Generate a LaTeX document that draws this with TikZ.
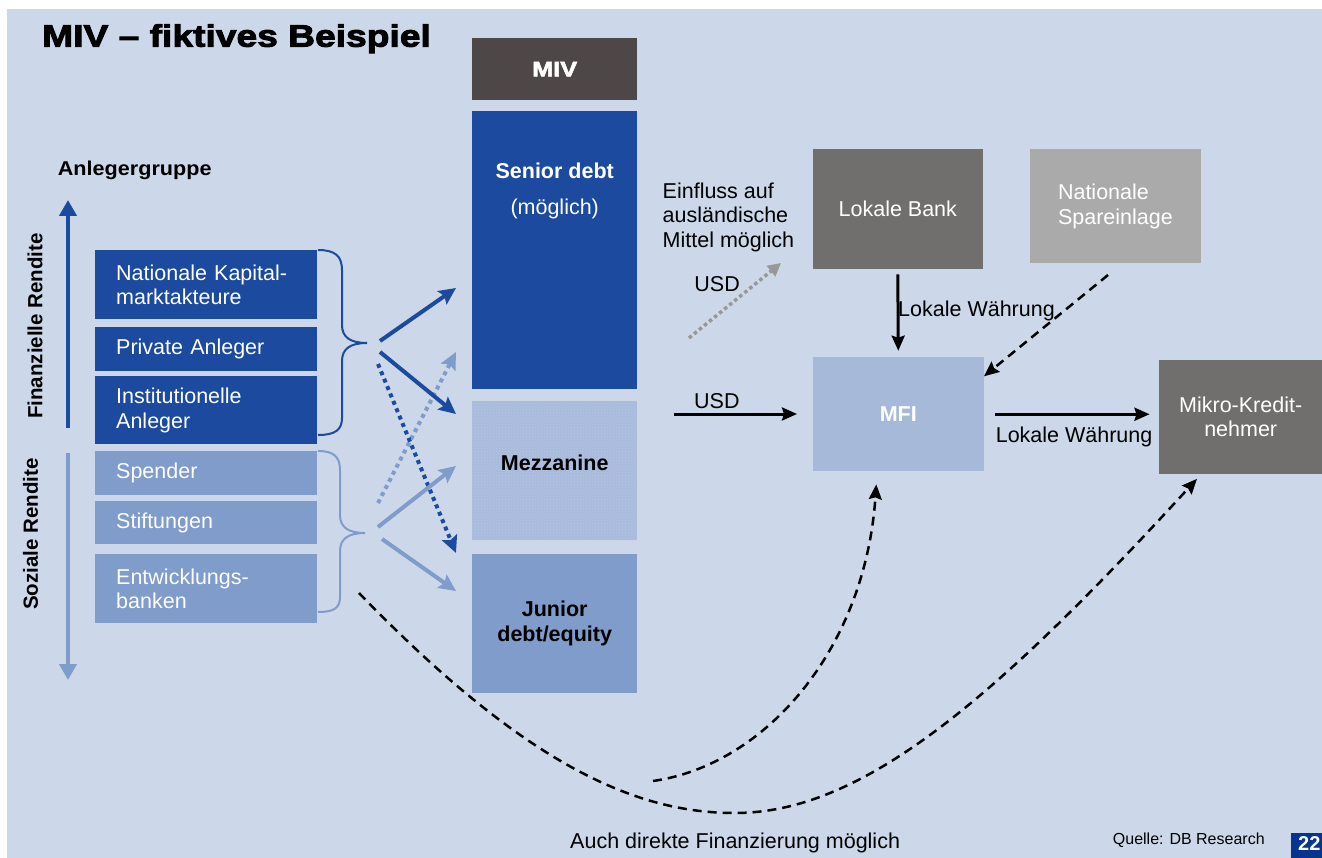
\documentclass[tikz,border=0pt]{standalone}
\usepackage{fontspec}
\setmainfont{Liberation Sans}
\newfontfamily\blackfont[FakeStretch=1.2,FakeBold=3]{Liberation Sans Bold}
\newfontfamily\widebold[FakeStretch=1.08]{Liberation Sans Bold}
\usetikzlibrary{arrows.meta,patterns,calc}

\definecolor{bgblue}{RGB}{204,215,233}
\definecolor{dkblue}{RGB}{27,74,158}
\definecolor{ltblue}{RGB}{127,156,202}
\definecolor{mezzblue}{RGB}{169,187,220}
\definecolor{mezzdot}{RGB}{184,199,227}
\definecolor{mfiblue}{RGB}{166,185,217}
\definecolor{mivgray}{RGB}{77,72,71}
\definecolor{bankgray}{RGB}{112,111,110}
\definecolor{spargray}{RGB}{170,170,170}
\definecolor{usdgray}{RGB}{152,152,152}
\definecolor{pageblue}{RGB}{6,52,142}

\newcommand{\ftxt}{\fontsize{21.5}{24.5}\selectfont}
\newcommand{\ftxtb}{\fontsize{21.5}{25}\selectfont\bfseries}

\begin{document}
\begin{tikzpicture}[x=1pt, y=-1pt,
    grpbox/.style={rectangle, anchor=north west, minimum width=222pt, text width=180pt, inner xsep=21pt, inner ysep=0pt, align=left, text=white, font=\ftxt},
    tranche/.style={rectangle, anchor=north west, minimum width=165pt, inner sep=0pt, align=center, font=\ftxtb},
    greybox/.style={rectangle, anchor=north west, inner sep=0pt, text=white, font=\ftxt},
    lbl/.style={inner sep=0pt, anchor=base west, font=\ftxt},
    sidearrow/.style={line width=4.5pt, -{Triangle[length=16pt,width=17pt]}},
    bigarrow/.style={line width=4pt, -{Stealth[length=17pt,width=16pt,inset=3pt]}},
    dotarrow/.style={bigarrow, line cap=butt, dash pattern=on 4pt off 4pt},
    blkarrow/.style={line width=3pt, -{Stealth[length=15pt,width=13pt,inset=2pt]}},
    dasharrow/.style={line width=2.5pt, dash pattern=on 9pt off 6pt, -{Stealth[length=15pt,width=13pt,inset=2pt]}}]

    % Page and background
    \fill[white] (0,0) rectangle (1322,858);
    \fill[bgblue] (7,9) rectangle (1322,858);
    \useasboundingbox (0,0) rectangle (1322,858);

    % Title
    \node[inner sep=0pt, anchor=base west, font=\blackfont\fontsize{31}{34}\selectfont] (title) at (42,46.7) {MIV – fiktives Beispiel};

    % Direct financing (drawn below the boxes)
    \coordinate (directA) at (359,593);
    \coordinate (directB) at (653,781);

    % Investor groups
    \node[inner sep=0pt, anchor=base west, font=\widebold\fontsize{20}{24}\selectfont] (anleger) at (57.7,176) {Anlegergruppe};
    \node[grpbox, fill=dkblue, minimum height=69pt] (kapital) at (95,250) {Nationale Kapital-\\marktakteure};
    \node[grpbox, fill=dkblue, minimum height=43.5pt] (privat) at (95,326.8) {Private Anleger};
    \node[grpbox, fill=dkblue, minimum height=68pt] (instit) at (95,376.2) {Institutionelle\\Anleger};
    \node[grpbox, fill=ltblue, minimum height=43.5pt] (spender) at (95,451.1) {Spender};
    \node[grpbox, fill=ltblue, minimum height=43pt] (stift) at (95,501.2) {Stiftungen};
    \node[grpbox, fill=ltblue, minimum height=69pt] (entw) at (95,554) {Entwicklungs-\\banken};

    % Return axis
    \coordinate (finbot) at (68,428);
    \coordinate (fintop) at (68,200);
    \coordinate (soztop) at (68,453);
    \coordinate (sozbot) at (68,680);
    \draw[sidearrow, dkblue] (finbot) -- (fintop);
    \draw[sidearrow, ltblue] (soztop) -- (sozbot);
    \node[rotate=90, inner sep=0pt, font=\bfseries\fontsize{20.5}{24}\selectfont] (finrend) at (35,326) {Finanzielle Rendite};
    \node[rotate=90, inner sep=0pt, font=\bfseries\fontsize{20.5}{24}\selectfont] (sozrend) at (30.5,534) {Soziale Rendite};

    % Braces
    \draw[dkblue, line width=2pt] (318,250) .. controls (335,250) and (342,256) .. (342,270)
        -- (342,325) .. controls (342,337) and (350,343) .. (367,343)
        .. controls (350,343) and (342,349) .. (342,361)
        -- (342,418) .. controls (342,430) and (335,435) .. (318,435);
    \draw[ltblue, line width=2pt] (318,451) .. controls (334,451) and (340,457) .. (340,470)
        -- (340,515) .. controls (340,527) and (348,533) .. (365,533)
        .. controls (348,533) and (340,539) .. (340,551)
        -- (340,597) .. controls (340,608) and (334,612) .. (318,612);

    % Flows into the tranches
    \coordinate (finA) at (380,341);
    \coordinate (finB) at (380,352);
    \coordinate (finC) at (378,364);
    \coordinate (sozA) at (378,503);
    \coordinate (sozB) at (378,527);
    \coordinate (sozC) at (382,539);
    \coordinate (snrin) at (456,288);
    \coordinate (snrin2) at (456,352);
    \coordinate (mezin) at (456,414);
    \coordinate (mezin2) at (456,466);
    \coordinate (junin) at (456,553);
    \coordinate (junin2) at (456,591);
    \draw[dotarrow, ltblue] (sozA) -- (snrin2);
    \draw[bigarrow, dkblue] (finA) -- (snrin);
    \draw[bigarrow, dkblue] (finB) -- (mezin);
    \draw[dotarrow, dkblue] (finC) -- (junin);
    \draw[bigarrow, ltblue] (sozB) -- (mezin2);
    \draw[bigarrow, ltblue] (sozC) -- (junin2);

    % MIV tranches
    \node[tranche, fill=mivgray, minimum height=62pt, text=white, font=\blackfont\fontsize{21}{24}\selectfont] (miv) at (472,38) {MIV};
    \node[tranche, fill=dkblue, minimum height=278pt] (senior) at (472,111) {};
    \node[inner sep=0pt, text=white, font=\ftxtb] (seniorlbl) at ([yshift=-60pt]senior.north) {Senior debt};
    \node[inner sep=0pt, text=white, font=\ftxt] (moeglich) at ([yshift=-98pt]senior.north) {(möglich)};
    \node[tranche, fill=mezzblue, postaction={pattern=crosshatch dots, pattern color=mezzdot}, minimum height=139pt] (mezz) at (472,401) {};
    \node[inner sep=0pt, font=\ftxtb] (mezzlbl) at ([yshift=8pt]mezz.center) {Mezzanine};
    \node[tranche, fill=ltblue, minimum height=139pt] (junior) at (472,554) {Junior\\debt/equity};

    % Local side
    \node[lbl, anchor=north west, align=left] (einfluss) at (662.5,182.6) {Einfluss auf\\ausländische\\Mittel möglich};
    \node[greybox, fill=bankgray, minimum width=170pt, minimum height=120pt] (bank) at (812.6,149) {Lokale Bank};
    \node[greybox, fill=spargray, minimum width=171.6pt, minimum height=114pt, align=left] (spar) at (1029.4,149) {Nationale\\Spareinlage};
    \node[greybox, fill=mfiblue, minimum width=171pt, minimum height=113.5pt, font=\ftxtb] (mfi) at (812.6,357.3) {MFI};
    \node[greybox, fill=bankgray, minimum width=163pt, minimum height=113.5pt, align=center] (mikro) at (1159,360) {Mikro-Kredit-\\nehmer};

    % Currency flows
    \coordinate (usdfrom) at (689,338);
    \coordinate (usdto) at (781,263);
    \draw[usdgray, line width=3.5pt, line cap=butt, dash pattern=on 3.5pt off 3pt, -{Triangle[length=13pt,width=13pt]}] (usdfrom) -- (usdto);
    \node[lbl] (usdup) at (694.2,291.7) {USD};
    \draw[blkarrow, shorten <=5pt, shorten >=6.6pt] (bank.south) -- (mfi.north);
    \node[lbl] (lokal1) at (898,316.7) {Lokale Währung};
    \coordinate (sparout) at (1108,275);
    \draw[dasharrow] (sparout) -- ([yshift=-19pt]mfi.north east);
    \coordinate (usdin) at (674,414);
    \draw[blkarrow, shorten >=15.6pt] (usdin) -- (usdin -| mfi.west);
    \node[lbl] (usdlow) at (694,408.3) {USD};
    \draw[blkarrow, shorten <=11pt, shorten >=9.5pt] (mfi.east) -- (mfi.east -| mikro.west);
    \node[lbl] (lokal2) at (995.6,442.7) {Lokale Währung};

    % Direct financing curves
    \draw[dasharrow] (directA) .. controls (530,770) and (640,813) .. (735,813)
        .. controls (860,813) and (990,705) .. ([xshift=-43.8pt,yshift=-5pt]mikro.south);
    \draw[dasharrow] (directB) .. controls (765,765) and (865,650) .. ([xshift=-22pt,yshift=-13.2pt]mfi.south);
    \node[lbl] (auch) at (570,848.3) {Auch direkte Finanzierung möglich};

    % Footer
    \node[lbl, font=\fontsize{16}{19}\selectfont] (quelle) at (1112.7,844) {Quelle: DB Research};
    \node[anchor=north west, fill=pageblue, minimum width=31pt, minimum height=25.3pt, inner sep=0pt] (pagenr) at (1291,832.7) {};
    \node[lbl, text=white, font=\bfseries\fontsize{20}{24}\selectfont] (pagelbl) at (1298,850) {22};
\end{tikzpicture}
\end{document}
